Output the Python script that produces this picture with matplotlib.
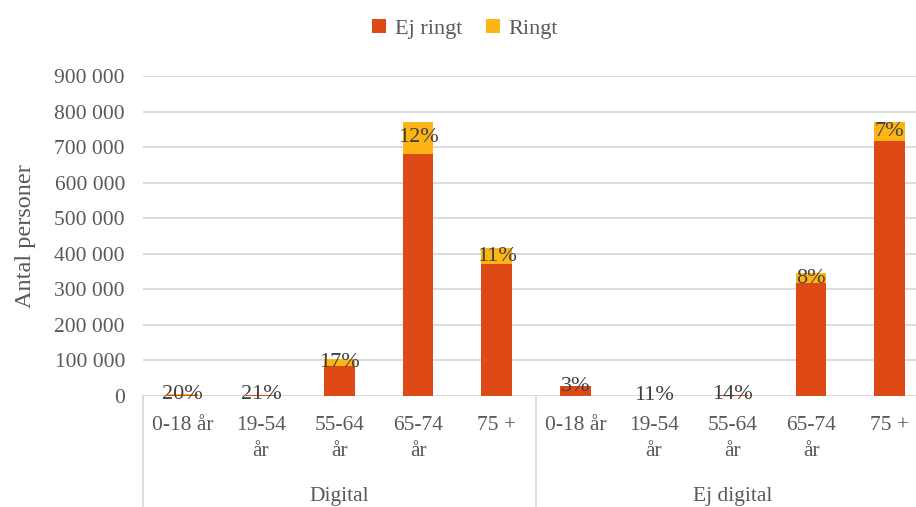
import matplotlib
matplotlib.use("Agg")
import matplotlib.pyplot as plt
import numpy as np

# Age groups within each channel group
groups = ["Digital", "Ej digital"]
age_labels = ["0-18 år", "19-54\når", "55-64\når", "65-74\når", "75 +"]

# Total persons per bar, and share that was called (Ringt), in percent
totals_digital = [5000, 4000, 103000, 772000, 416000]
totals_ej_digital = [28000, 600, 3500, 345000, 772000]
pct_digital = [20, 21, 17, 12, 11]
pct_ej_digital = [3, 11, 14, 8, 7]

totals = np.array(totals_digital + totals_ej_digital, dtype=float)
pcts = np.array(pct_digital + pct_ej_digital, dtype=float)
ringt = totals * pcts / 100.0
ej_ringt = totals - ringt

yticks = [0, 100000, 200000, 300000, 400000, 500000, 600000, 700000, 800000, 900000]

RED = "#DD4A15"
GOLD = "#FDB515"
TICK = "#595959"
LABEL = "#404040"

plt.rcParams["font.family"] = ["Liberation Serif", "DejaVu Serif"]

W, H = 916, 507
fig = plt.figure(figsize=(W / 100, H / 100), dpi=100)
left, right, bottom, top = 143, 929, 396, 76
ax = fig.add_axes([left / W, (H - bottom) / H, (right - left) / W, (bottom - top) / H])

x = np.arange(len(totals))
bw = 0.39
ax.bar(x, ej_ringt, bw, color=RED, label="Ej ringt", zorder=3)
ax.bar(x, ringt, bw, bottom=ej_ringt, color=GOLD, label="Ringt", zorder=3)

for xi, base, seg, p in zip(x, ej_ringt, ringt, pcts):
    ax.text(xi, base + seg / 2, f"{int(p)}%", ha="center", va="center",
            fontsize=16, color=LABEL, zorder=4)

ax.set_xlim(-0.5, len(totals) - 0.5)
ax.set_ylim(0, 900000)
ax.set_yticks(yticks)
ax.set_yticklabels([f"{v:,}".replace(",", " ") for v in yticks], fontsize=15.5, color=TICK)
ax.yaxis.grid(True, color="#D9D9D9", linewidth=1.3, zorder=0)
ax.set_axisbelow(True)
ax.tick_params(axis="y", length=0, pad=13)
ax.tick_params(axis="x", length=0)
ax.set_xticks([])
for s in ax.spines.values():
    s.set_visible(False)

ax.set_ylabel("Antal personer", fontsize=17.5, color=TICK, labelpad=13)

# Category labels below the axis
trans = ax.get_xaxis_transform()
for i, xi in enumerate(x):
    lab = age_labels[i % 5]
    ax.text(xi, -0.062, lab, transform=trans, ha="center", va="top",
            fontsize=15.5, color=TICK, linespacing=1.5)

# Group labels and separators
n = len(age_labels)
for g, name in enumerate(groups):
    ax.text(g * n + (n - 1) / 2, -0.285, name, transform=trans, ha="center",
            va="top", fontsize=15.5, color=TICK)
for xs in [-0.5, n - 0.5, 2 * n - 0.5]:
    ax.plot([xs, xs], [0, -0.36], transform=trans, color="#D9D9D9",
            linewidth=1.3, clip_on=False)

fig.legend(loc="upper center", bbox_to_anchor=(0.508, 1.0), ncol=2, frameon=False,
           fontsize=16, handlelength=0.6, handleheight=0.6, handletextpad=0.4,
           columnspacing=1.1, labelcolor=TICK, borderaxespad=0.45)

fig.savefig("out.png", dpi=100)
